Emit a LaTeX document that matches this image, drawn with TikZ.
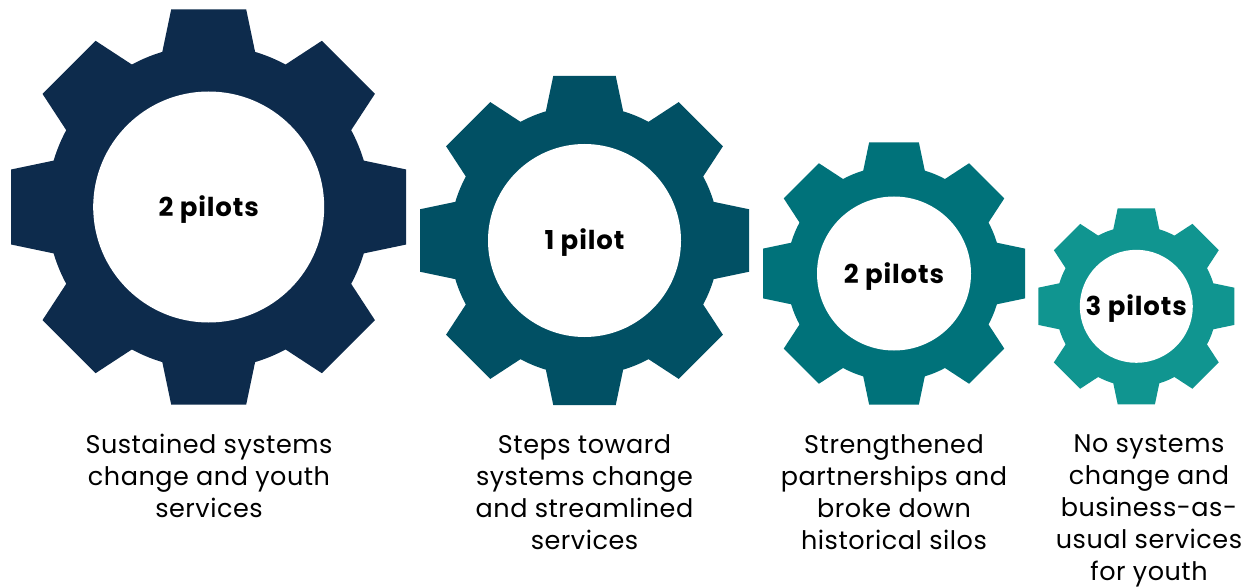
\documentclass[tikz,border=0pt]{standalone}
\usepackage{fontspec}
\setmainfont{Poppins}
\newfontfamily\holefont[LetterSpace=3.4]{Poppins}
\newfontfamily\capfont[LetterSpace=2]{Poppins}
\definecolor{gearA}{HTML}{0D2B4C}
\definecolor{gearB}{HTML}{015064}
\definecolor{gearC}{HTML}{00727A}
\definecolor{gearD}{HTML}{109590}
\tikzset{
  x=1pt,y=-1pt,
  hole/.style={circle,fill=white,inner sep=0pt,text height=19pt,text depth=0pt,font=\fontsize{26}{30}\holefont\bfseries},
  caption/.style={align=center,anchor=center,inner sep=0pt,font=\fontsize{25.5}{32}\capfont},
}
\newcommand{\gearshape}[5]{% name, cx, cy, R, colour
  \begin{scope}[shift={(#2,#3)}]
    \fill[#5] (0,0) circle[radius=0.8194*#4];
    \foreach \a in {0,45,...,315}{
      \fill[#5,rotate=\a] (-0.19*#4,-#4) -- (0.19*#4,-#4) -- (0.235*#4,-0.785*#4) -- (0.235*#4,-0.7*#4) -- (-0.235*#4,-0.7*#4) -- (-0.235*#4,-0.785*#4) -- cycle;
    }
  \end{scope}
}
\begin{document}
\begin{tikzpicture}
\useasboundingbox (0,0) rectangle (1250,588);
\gearshape{g1}{208.7}{207}{197.5}{gearA}
\gearshape{g2}{584.5}{240.5}{164.5}{gearB}
\gearshape{g3}{894}{273.5}{131}{gearC}
\gearshape{g4}{1136.3}{306.3}{98}{gearD}
\node[hole,minimum size=231pt] (h1) at (208.7,207) {2 pilots};
\node[hole,minimum size=193pt] (h2) at (584.5,240.5) {1 pilot};
\node[hole,minimum size=154pt] (h3) at (894,273.5) {2 pilots};
\node[hole,minimum size=113pt] (h4) at (1136.3,306.3) {3 pilots};
\node[caption] (c1) at (209,476) {Sustained systems\\change and youth\\services};
\node[caption] (c2) at (584.5,492) {Steps toward\\systems change\\and streamlined\\services};
\node[caption] (c3) at (894,492) {Strengthened\\partnerships and\\broke down\\historical silos};
\node[caption] (c4) at (1149,511) {No systems\\change and\\business-as-\\usual services\\for youth};
\end{tikzpicture}
\end{document}
